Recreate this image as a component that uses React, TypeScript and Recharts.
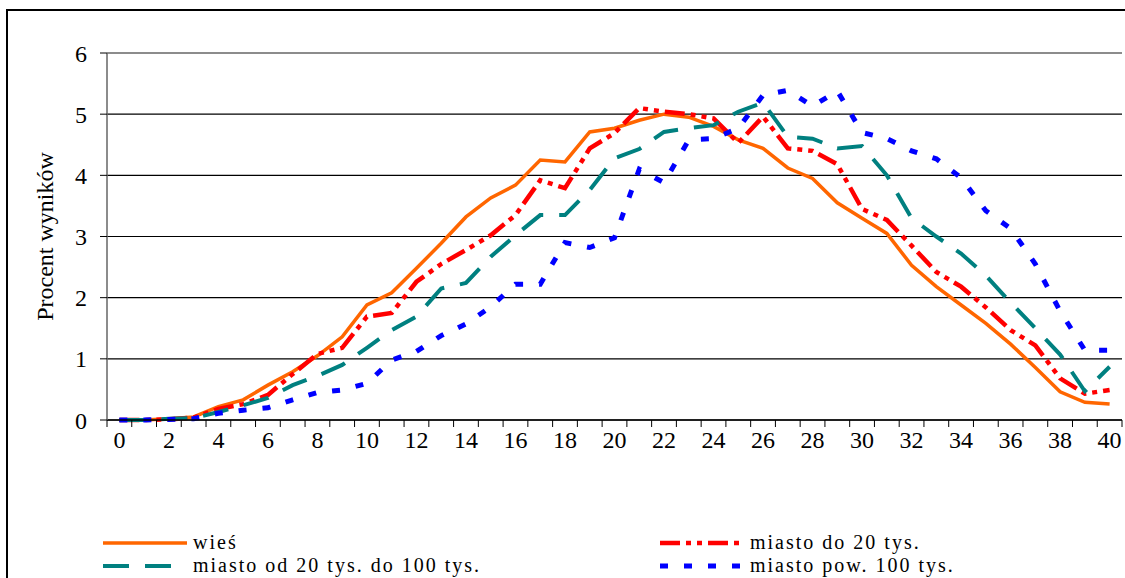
import {
  CartesianGrid,
  Legend,
  Line,
  LineChart,
  ReferenceLine,
  XAxis,
  YAxis,
} from "recharts";

const scores = [
  0, 1, 2, 3, 4, 5, 6, 7, 8, 9, 10, 11, 12, 13, 14, 15, 16, 17, 18, 19, 20,
  21, 22, 23, 24, 25, 26, 27, 28, 29, 30, 31, 32, 33, 34, 35, 36, 37, 38, 39,
  40,
];

const wies = [
  0, 0, 0.02, 0.05, 0.22, 0.33, 0.57, 0.79, 1.05, 1.36, 1.88, 2.08, 2.48,
  2.89, 3.32, 3.63, 3.84, 4.25, 4.22, 4.71, 4.77, 4.9, 5.0, 4.95, 4.8, 4.58,
  4.44, 4.12, 3.95, 3.55, 3.3, 3.05, 2.53, 2.18, 1.88, 1.58, 1.24, 0.86, 0.46,
  0.29, 0.26,
];

const miastoDo20 = [
  0, 0, 0.01, 0.04, 0.18, 0.26, 0.41, 0.75, 1.08, 1.18, 1.69, 1.75, 2.26,
  2.55, 2.78, 3.02, 3.35, 3.92, 3.79, 4.44, 4.69, 5.1, 5.04, 5.0, 4.93, 4.53,
  4.96, 4.44, 4.4, 4.18, 3.45, 3.27, 2.85, 2.42, 2.18, 1.84, 1.47, 1.22, 0.68,
  0.43, 0.49,
];

const miasto20do100 = [
  0, 0, 0.02, 0.03, 0.13, 0.24, 0.36, 0.57, 0.72, 0.9, 1.18, 1.47, 1.69,
  2.15, 2.24, 2.67, 3.02, 3.35, 3.35, 3.76, 4.28, 4.43, 4.71, 4.77, 4.82,
  5.04, 5.19, 4.63, 4.6, 4.44, 4.48, 4.0, 3.3, 3.0, 2.72, 2.36, 1.92, 1.5,
  1.07, 0.47, 0.87,
];

const miastoPow100 = [
  0, 0, 0.01, 0.02, 0.11, 0.16, 0.2, 0.33, 0.45, 0.49, 0.6, 0.98, 1.12, 1.38,
  1.57, 1.85, 2.22, 2.22, 2.9, 2.82, 2.98, 4.1, 3.88, 4.58, 4.6, 4.77, 5.31,
  5.39, 5.13, 5.38, 4.7, 4.6, 4.4, 4.27, 3.96, 3.42, 3.13, 2.55, 1.78, 1.14,
  1.14,
];

const yTicks = [0, 1, 2, 3, 4, 5, 6];

const series = [
  { key: "wies", name: "wieś", color: "#FF6600", width: 3.5, dash: undefined },
  { key: "do20", name: "miasto do 20 tys.", color: "#FF0000", width: 4.5, dash: "20 6 5 6 5 6" },
  { key: "od20", name: "miasto od 20 tys. do 100 tys.", color: "#008080", width: 4, dash: "26 16" },
  { key: "pow100", name: "miasto pow. 100 tys.", color: "#0000FF", width: 5, dash: "8 16" },
];

const data = scores.map((s, i) => ({
  score: s,
  wies: wies[i],
  do20: miastoDo20[i],
  od20: miasto20do100[i],
  pow100: miastoPow100[i],
}));

const FONT = "Liberation Serif, Times New Roman, serif";
const PLOT_LEFT = 107;
const PLOT_RIGHT = 1122;
const HALF = (PLOT_RIGHT - PLOT_LEFT) / scores.length / 2;

const XTick = (props: any) => {
  const { x, y, payload, index } = props;
  const last = index === scores.length - 1;
  return (
    <g>
      <line x1={x - HALF} x2={x - HALF} y1={y} y2={y + 7} stroke="#000" />
      {last && <line x1={x + HALF} x2={x + HALF} y1={y} y2={y + 7} stroke="#000" />}
      {index % 2 === 0 && (
        <text
          x={x}
          y={y + 28}
          textAnchor="middle"
          style={{ fontSize: 24, fontFamily: FONT }}
          fill="#000"
        >
          {payload.value}
        </text>
      )}
    </g>
  );
};

const YLabel = (props: any) => {
  const vb = props.viewBox;
  const cy = vb.y + vb.height / 2;
  return (
    <text
      x={45}
      y={cy}
      transform={`rotate(-90, 45, ${cy})`}
      textAnchor="middle"
      dominantBaseline="central"
      style={{ fontSize: 24, fontFamily: FONT }}
      fill="#000"
    >
      Procent wyników
    </text>
  );
};

const legendPos = [
  { left: 103, top: 0 },
  { left: 660, top: 0 },
  { left: 103, top: 23 },
  { left: 660, top: 23 },
];

const LegendBox = () => (
  <div style={{ position: "relative", width: 1125, height: 46 }}>
    {series.map((s, i) => (
      <div
        key={s.key}
        style={{
          position: "absolute",
          left: legendPos[i].left,
          top: legendPos[i].top,
          height: 23,
          display: "flex",
          alignItems: "center",
          fontFamily: FONT,
          fontSize: 20,
          lineHeight: "23px",
          letterSpacing: "2px",
          color: "#000",
          whiteSpace: "nowrap",
        }}
      >
        <svg width={84} height={10} style={{ display: "block" }}>
          <line
            x1={0}
            x2={84}
            y1={5}
            y2={5}
            stroke={s.color}
            strokeWidth={s.width}
            strokeDasharray={s.dash}
          />
        </svg>
        <span style={{ marginLeft: 6 }}>{s.name}</span>
      </div>
    ))}
  </div>
);

export default function App() {
  return (
    <div
      style={{
        position: "absolute",
        left: 0,
        top: 0,
        width: 1125,
        height: 578,
        overflow: "hidden",
        background: "#fff",
      }}
    >
      <div
        style={{
          position: "absolute",
          left: 6,
          top: 9,
          width: 1140,
          height: 600,
          border: "2px solid #000",
        }}
      />
      <LineChart
        width={1125}
        height={578}
        data={data}
        margin={{ top: 53, right: 3, left: 27, bottom: 82 }}
        style={{ position: "absolute", left: 0, top: 0 }}
      >
        <CartesianGrid vertical={false} stroke="#000" strokeWidth={1.2} />
        <ReferenceLine y={6} stroke="#8c8c8c" strokeWidth={2} />
        <XAxis
          dataKey="score"
          interval={0}
          padding={{ left: HALF, right: HALF }}
          tickLine={false}
          tickSize={0}
          tickMargin={0}
          tick={<XTick />}
          axisLine={{ stroke: "#000", strokeWidth: 1.5 }}
          height={30}
        />
        <YAxis
          domain={[0, 6]}
          ticks={yTicks}
          width={80}
          tickSize={7}
          tickMargin={13}
          tickLine={{ stroke: "#000" }}
          axisLine={{ stroke: "#666", strokeWidth: 1.5 }}
          tick={{ fontSize: 24, fontFamily: FONT, fill: "#000" }}
          label={<YLabel />}
        />
        <YAxis
          yAxisId="right"
          orientation="right"
          width={0}
          tick={false}
          tickLine={false}
          axisLine={{ stroke: "#8c8c8c", strokeWidth: 2 }}
        />
        {series.map((s) => (
          <Line
            key={s.key}
            type="linear"
            dataKey={s.key}
            name={s.name}
            stroke={s.color}
            strokeWidth={s.width}
            strokeDasharray={s.dash}
            dot={false}
            isAnimationActive={false}
          />
        ))}
        <Legend
          content={<LegendBox />}
          wrapperStyle={{ position: "absolute", left: 0, top: 531, width: 1125 }}
        />
      </LineChart>
    </div>
  );
}
